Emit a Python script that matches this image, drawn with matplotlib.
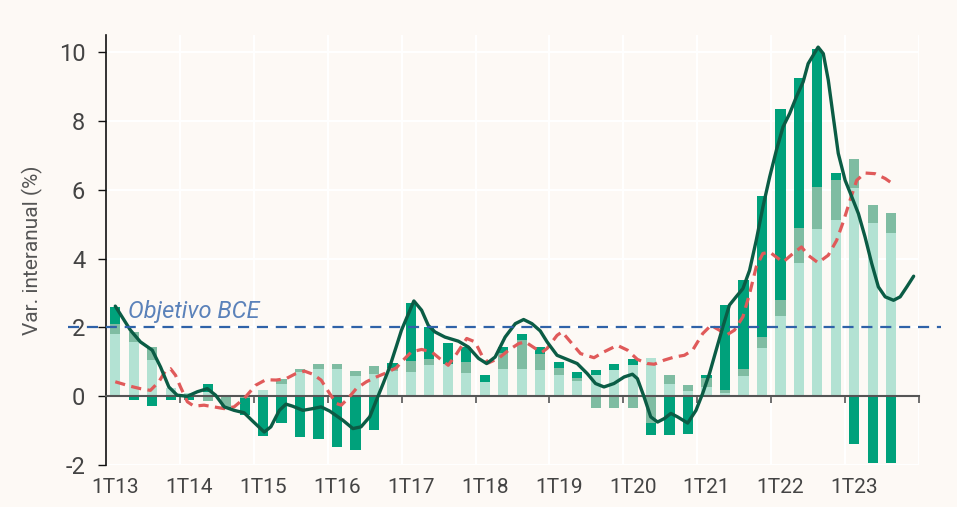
import numpy as np
import matplotlib
matplotlib.use("Agg")
import matplotlib.pyplot as plt
import matplotlib.transforms as mtransforms

plt.rcParams['font.family'] = ['Roboto', 'DejaVu Sans']
plt.rcParams['axes.unicode_minus'] = False

# quarters 1T13 .. 3T23 (index 0 = 1T13)
years = ["1T13", "1T14", "1T15", "1T16", "1T17", "1T18", "1T19", "1T20", "1T21", "1T22", "1T23"]

# contribuciones (pp): subyacente (claro), alimentos (medio), energía (oscuro)
light = [1.80, 1.58, 1.05, 0.25, 0.10, 0.12, 0.05, 0.05, 0.17, 0.37, 0.71, 0.78,
         0.80, 0.58, 0.66, 0.72, 0.71, 0.90, 0.93, 0.68, 0.40, 0.79, 0.79, 0.76,
         0.61, 0.44, 0.61, 0.76, 0.90, 1.12, 0.37, 0.15, 0.27, 0.10, 0.58, 1.39,
         2.34, 3.88, 4.87, 5.12, 6.04, 5.04, 4.76]
medium = [0.30, 0.29, 0.38, 0.00, 0.00, -0.13, -0.30, -0.05, 0.00, 0.12, 0.07, 0.15,
          0.13, 0.15, 0.21, 0.10, 0.31, 0.18, 0.00, 0.32, 0.00, 0.47, 0.84, 0.46,
          0.22, 0.10, -0.33, -0.33, -0.33, -0.78, 0.26, 0.19, 0.26, 0.09, 0.20, 0.32,
          0.47, 1.02, 1.20, 1.18, 0.85, 0.51, 0.58]
dark = [0.50, -0.12, -0.27, -0.12, -0.10, 0.25, -0.05, -0.50, -1.16, -0.78, -1.18, -1.23,
        -1.49, -1.55, -0.99, 0.15, 1.69, 0.92, 0.62, 0.43, 0.21, 0.17, 0.17, 0.20,
        0.17, 0.16, 0.15, 0.17, 0.18, -0.35, -1.13, -1.09, 0.08, 2.46, 2.61, 4.12,
        5.53, 4.34, 4.02, 0.20, -1.38, -1.94, -1.94]

# IPC general (línea continua); t en trimestres desde 1T13
headline_t = [0, 0.82, 1.36, 2.0, 2.45, 2.9, 3.35, 3.9, 4.44, 4.98, 5.43, 5.9, 6.43, 6.97,
              7.43, 8.06, 8.42, 8.88, 9.24, 9.6, 10.15, 10.69, 11.14, 11.6, 12.32, 12.86,
              13.3, 13.77, 14.13, 14.5, 14.85, 15.2, 15.49, 16.16, 16.58, 16.94, 17.3,
              17.84, 18.57, 19.11, 19.66, 20.1, 20.56, 21.1, 21.65, 22.1, 22.55, 23.0,
              23.37, 23.91, 24.46, 25.0, 25.54, 25.99, 26.45, 26.99, 27.54, 27.99, 28.26,
              28.62, 28.98, 29.35, 29.71, 30.07, 30.43, 30.98, 31.43, 31.79, 32.16, 32.52,
              32.88, 33.24, 33.6, 33.97, 34.33, 34.69, 35.05, 35.42, 35.78, 36.14, 36.5,
              36.86, 37.23, 37.5, 38.04, 38.32, 38.59, 38.86, 39.13, 39.5, 39.86, 40.22,
              40.58, 40.94, 41.3, 41.67, 42.12, 42.48, 42.84, 43.21]
headline = [2.62, 1.92, 1.58, 1.34, 0.85, 0.27, 0.03, 0.0, 0.13, 0.22, 0.03, -0.31, -0.41, -0.48,
            -0.72, -1.04, -0.89, -0.41, -0.23, -0.29, -0.41, -0.36, -0.31, -0.43, -0.70, -0.94,
            -0.89, -0.60, -0.12, 0.37, 0.85, 1.43, 1.92, 2.77, 2.50, 2.06, 1.87,
            1.72, 1.60, 1.43, 1.10, 0.95, 1.14, 1.72, 2.11, 2.23, 2.11, 1.90,
            1.58, 1.19, 1.07, 0.95, 0.66, 0.37, 0.27, 0.37, 0.56, 0.64, 0.51,
            -0.02, -0.60, -0.75, -0.65, -0.50, -0.60, -0.78, -0.41, 0.08, 0.66, 1.34,
            2.01, 2.65, 2.89, 3.13, 3.66, 4.53, 5.50, 6.38, 7.15, 7.83, 8.22,
            8.70, 9.14, 9.67, 10.15, 9.96, 9.19, 8.12, 7.06, 6.28, 5.80, 5.31,
            4.63, 3.86, 3.18, 2.89, 2.79, 2.89, 3.18, 3.49]

# IPC subyacente (línea discontinua)
core_t = [0, 0.82, 1.36, 1.9, 2.36, 2.72, 2.99, 3.26, 3.53, 3.9, 4.26, 4.8, 5.34, 5.89, 6.43,
          6.97, 7.6, 8.15, 8.7, 9.24, 9.78, 10.24, 10.69, 11.14, 11.6, 11.96, 12.23, 12.59,
          13.04, 13.59, 14.13, 14.67, 15.22, 15.49, 16.03, 16.58, 17.12, 17.66, 18.02, 18.48,
          19.02, 19.47, 19.84, 20.2, 20.74, 21.29, 21.83, 22.19, 22.73, 23.1, 23.37, 23.91,
          24.18, 24.64, 25.18, 25.91, 26.45, 27.17, 27.72, 28.26, 28.8, 29.17, 29.71, 30.26,
          30.8, 31.25, 31.79, 32.24, 32.7, 33.06, 33.51, 33.97, 34.33, 34.69, 35.05, 35.42,
          36.14, 36.68, 37.14, 37.5, 38.04, 38.59, 39.04, 39.4, 39.77, 40.13, 40.58, 41.12,
          41.67, 42.12]
core = [0.42, 0.29, 0.22, 0.17, 0.42, 0.74, 0.80, 0.61, 0.27, -0.16, -0.29, -0.26, -0.31, -0.36, -0.31,
        -0.07, 0.32, 0.48, 0.47, 0.51, 0.66, 0.73, 0.64, 0.47, 0.08, -0.21, -0.26, -0.07,
        0.22, 0.42, 0.56, 0.68, 0.83, 1.00, 1.29, 1.36, 1.29, 1.05, 0.90, 1.24,
        1.68, 1.58, 1.19, 0.97, 1.10, 1.34, 1.53, 1.58, 1.39, 1.28, 1.39, 1.77,
        1.87, 1.58, 1.24, 1.12, 1.29, 1.48, 1.34, 1.07, 0.95, 0.93, 1.05, 1.14,
        1.19, 1.34, 1.82, 2.06, 1.92, 1.77, 1.92, 2.31, 2.98, 3.76, 4.15, 4.19,
        3.90, 4.15, 4.34, 4.10, 3.88, 4.10, 4.53, 5.07, 5.70, 6.28, 6.49, 6.47,
        6.33, 6.16]

target = 2.0
ylabel = "Var. interanual (%)"

BG = "#fdf9f5"
C_LIGHT, C_MED, C_DARK = "#b3e2d3", "#7fbca2", "#00a17b"

fig = plt.figure(figsize=(9.57, 5.07), dpi=100, facecolor=BG)
ax = fig.add_axes([0.1108, 0.0828, 0.8495, 0.848])
ax.set_facecolor(BG)

x = np.arange(len(light))
pos = np.zeros(len(x)); neg = np.zeros(len(x))
for vals, col in ((light, C_LIGHT), (medium, C_MED), (dark, C_DARK)):
    v = np.array(vals)
    bottom = np.where(v >= 0, pos, neg)
    ax.bar(x, v, bottom=bottom, width=0.55, color=col, lw=0, zorder=1)
    pos = pos + np.clip(v, 0, None); neg = neg + np.clip(v, None, 0)

ax.plot(headline_t, headline, color="#0b5c45", lw=2.4, solid_joinstyle="round",
        solid_capstyle="round", zorder=4)
ax.plot(core_t, core, color="#e05a5a", lw=2.3, ls=(0, (3.2, 2)), zorder=3)

# objetivo BCE: sobresale del área de ejes
tr = mtransforms.blended_transform_factory(ax.transAxes, ax.transData)
ax.plot([-0.047, 1.027], [target, target], transform=tr, color="#2f62a8", lw=1.6,
        ls=(0, (5, 3.5)), clip_on=False, zorder=5)
ax.text(0.7, target + 0.12, "Objetivo BCE", color="#5b82ba", fontsize=17,
        style="italic", ha="left", va="bottom", zorder=6)

ax.set_xlim(-0.5, 43.5)
ax.set_ylim(-2, 10.5)

# eje x en el cero, marcas en los cambios de año
ax.spines['bottom'].set_position(('data', 0))
ax.spines['bottom'].set_color("#555555"); ax.spines['bottom'].set_linewidth(1.5)
ax.spines['bottom'].set_zorder(2.5)
ax.spines['top'].set_visible(False); ax.spines['right'].set_visible(False)
ax.spines['left'].set_color("#111111"); ax.spines['left'].set_linewidth(1.2)
ax.set_xticks(np.arange(3.5, 44, 4))
ax.tick_params(axis='x', length=5, width=1.2, color="#555555", labelbottom=False)
ax.set_yticks(np.arange(-2, 11, 2))
ax.tick_params(axis='y', length=6, width=1, color="#111111", pad=9,
               labelsize=17, labelcolor="#444444")
ax.set_axisbelow(True)
ax.grid(color="white", lw=1.5)

sec = ax.secondary_xaxis(0.0)
sec.set_xticks(np.arange(0, 44, 4), years)
sec.tick_params(length=0, pad=9, labelsize=15, labelcolor="#444444")
sec.spines['bottom'].set_visible(False)

ax.set_ylabel(ylabel, fontsize=15, color="#555555", labelpad=11)

fig.savefig("out.png", dpi=100, facecolor=BG)
